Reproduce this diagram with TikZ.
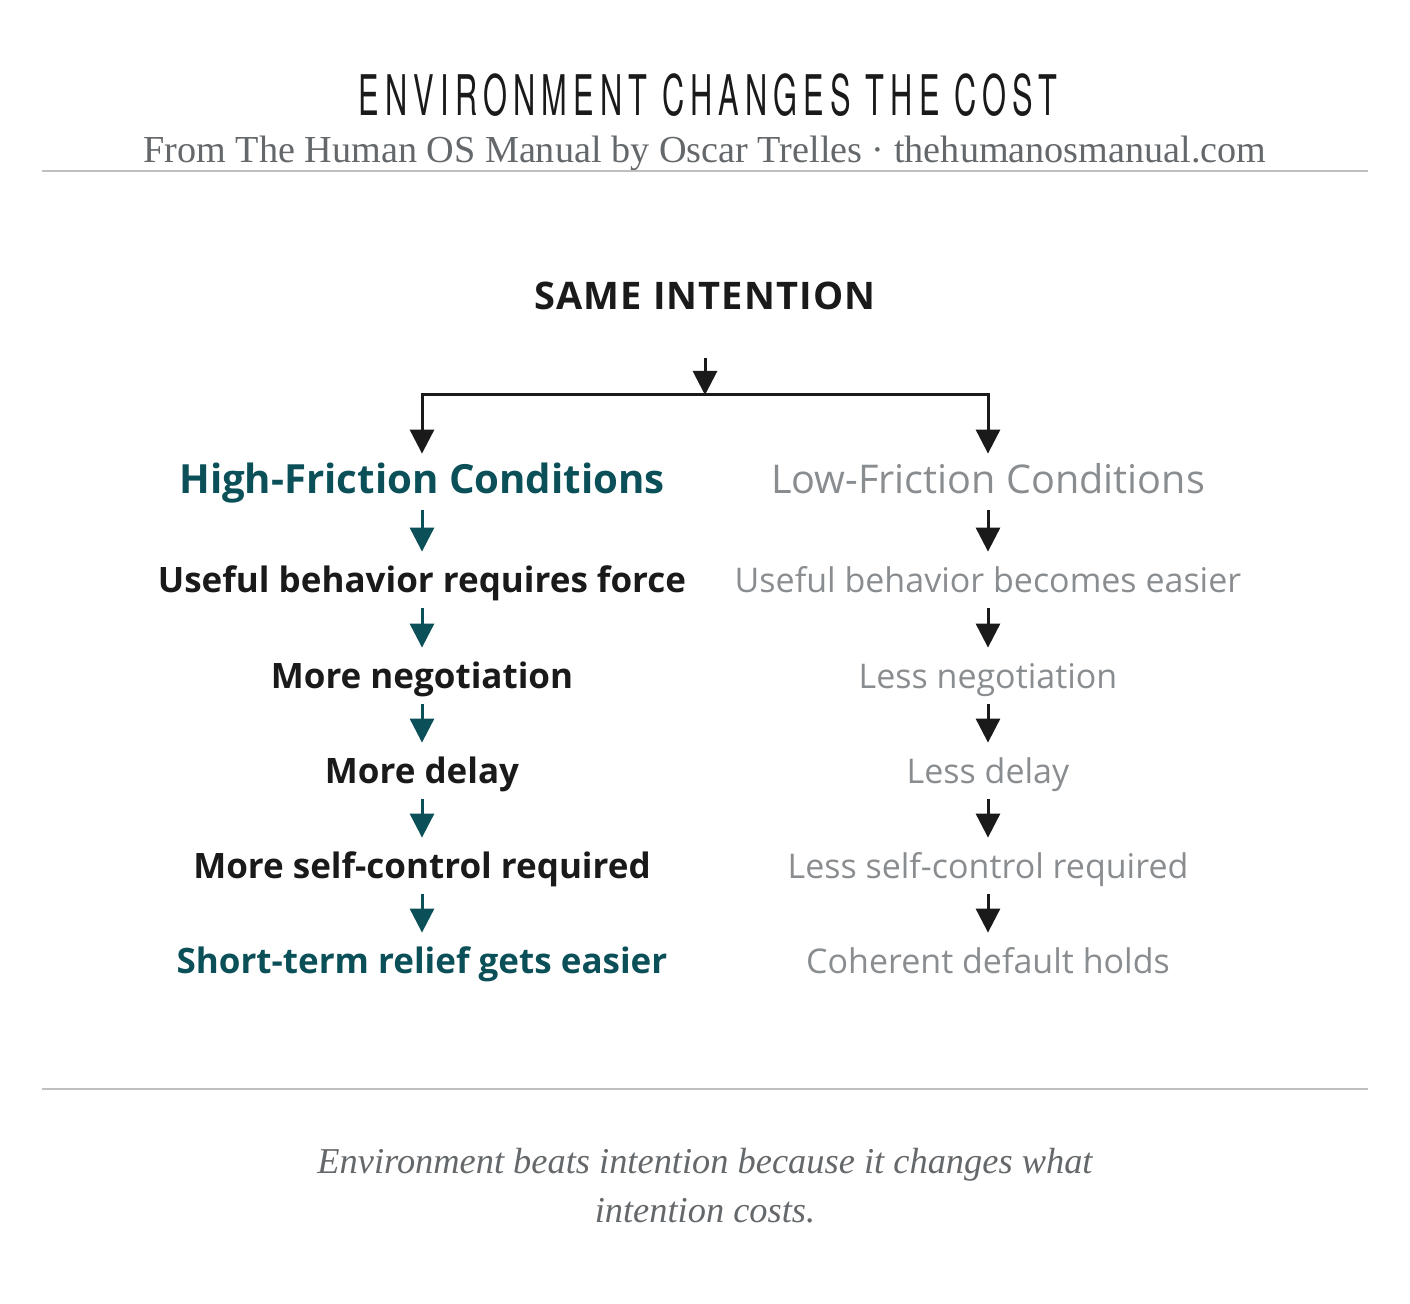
\documentclass[tikz,border=0pt]{standalone}
\usepackage{fontspec}
\setmainfont{Open Sans}
\newfontfamily\titlefont[LetterSpace=20]{TeX Gyre Heros}
\newfontfamily\bookfont{Liberation Serif}
\newfontfamily\capsfont[LetterSpace=3]{Open Sans}
\usetikzlibrary{positioning,arrows.meta}
\definecolor{colorteal} {RGB}{ 11, 80, 88}
\definecolor{colorgrey} {RGB}{138,141,144}
\definecolor{colorink}  {RGB}{ 26, 26, 26}
\definecolor{colorrule} {RGB}{192,192,192}
\definecolor{colorsub}  {RGB}{100,104,107}

\begin{document}
\begin{tikzpicture}[
    x=0.5pt,y=-0.5pt,
    rowtext/.style={inner sep=0pt,minimum height=28pt,text height=12.5pt,text depth=0pt,
        font={\fontsize{17}{20}\selectfont}},
    hard/.style={rowtext,font={\fontsize{17.5}{20}\selectfont\bfseries},text=colorink},
    soft/.style={rowtext,text=colorgrey},
    head/.style={inner sep=0pt,minimum height=31pt,text height=15pt,text depth=0pt,
        font={\fontsize{19.8}{24}\selectfont}},
    tealline/.style={-{Triangle[width=12pt,length=12pt]},line width=1.5pt,color=colorteal},
    inkline/.style={-{Triangle[width=12pt,length=12pt]},line width=1.5pt,color=colorink}
]
    \useasboundingbox (0, 0) rectangle (1410, 1304);

    % title block
    \node[font={\fontsize{28}{30}\selectfont\titlefont},text=colorink] (title) at (708, 95)
        {\scalebox{0.55}[1]{ENVIRONMENT CHANGES THE COST}};
    \node[font={\fontsize{19.1}{22}\selectfont\bookfont},text=colorsub] (sub) at (705, 153)
        {From The Human OS Manual by Oscar Trelles · thehumanosmanual.com};
    \draw[line width=0.6pt,color=colorrule] (42, 171) -- (1368, 171);

    % split
    \node[font={\fontsize{19}{22}\selectfont\capsfont\bfseries},text=colorink] (same) at (705, 296)
        {SAME INTENTION};
    \coordinate (top) at (705, 358);
    \coordinate (fork) at (705, 395);

    \node[head,text=colorteal,font={\fontsize{20.1}{24}\selectfont\bfseries}] (hi) at (422, 479)
        {High-Friction Conditions};
    \node[head,text=colorgrey] (lo) at (988, 479) {Low-Friction Conditions};

    \draw[inkline] (top) -- (fork);
    \draw[inkline] (fork) -| ([yshift=-3pt]hi.north);
    \draw[inkline] (fork) -| ([yshift=-3pt]lo.north);

    % left column
    \node[hard] (h1) at (422, 580) {Useful behavior requires force};
    \node[hard] (h2) at (422, 676) {More negotiation};
    \node[hard] (h3) at (422, 771) {More delay};
    \node[hard] (h4) at (422, 866) {More self-control required};
    \node[hard,text=colorteal] (h5) at (422, 961) {Short-term relief gets easier};

    % right column
    \node[soft] (l1) at (988, 580) {Useful behavior becomes easier};
    \node[soft] (l2) at (988, 676) {Less negotiation};
    \node[soft] (l3) at (988, 771) {Less delay};
    \node[soft] (l4) at (988, 866) {Less self-control required};
    \node[soft] (l5) at (988, 961) {Coherent default holds};

    \draw[tealline] (hi) -- (h1);
    \draw[inkline] (lo) -- (l1);
    \foreach \a/\b in {1/2,2/3,3/4,4/5} {
        \draw[tealline] (h\a) -- (h\b);
        \draw[inkline] (l\a) -- (l\b);
    }

    % caption
    \draw[line width=0.6pt,color=colorrule] (42, 1089) -- (1368, 1089);
    \node[font={\fontsize{18.2}{24.5}\selectfont\bookfont\itshape},text=colorsub,align=center] (note) at (705, 1186)
        {Environment beats intention because it changes what\\intention costs.};
\end{tikzpicture}
\end{document}
